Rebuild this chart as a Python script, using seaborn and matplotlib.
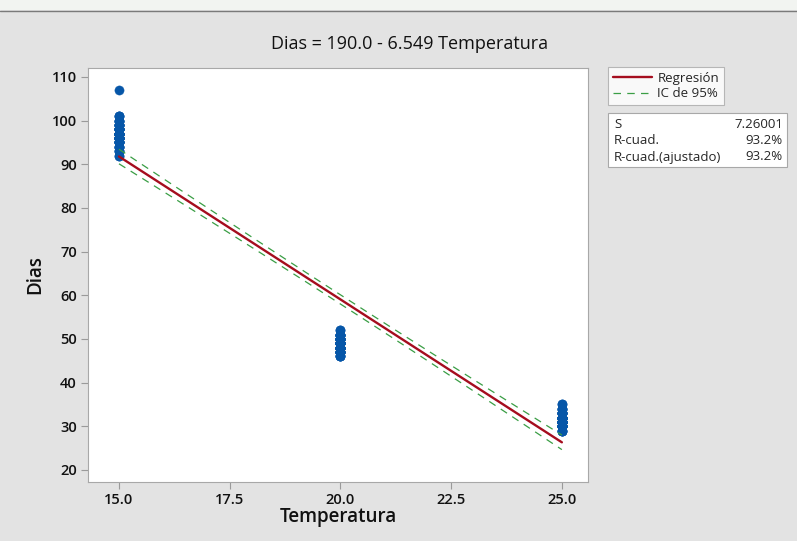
import numpy as np
import pandas as pd
import seaborn as sns
import matplotlib.pyplot as plt
from matplotlib.patches import Rectangle
from matplotlib.lines import Line2D

# observed values (Dias) per temperature, with how many times each was seen
temps = [15, 20, 25]
dias_15 = [92, 93, 94, 95, 96, 97, 98, 99, 100, 101, 107]
cnt_15 = [2, 3, 4, 7, 12, 14, 10, 6, 4, 3, 1]
dias_20 = [46, 47, 48, 49, 50, 51, 52]
cnt_20 = [4, 9, 16, 17, 11, 7, 2]
dias_25 = [29, 30, 31, 32, 33, 34, 35]
cnt_25 = [4, 12, 20, 16, 8, 4, 2]

title = "Dias = 190.0 - 6.549 Temperatura"
stats_labels = ["S", "R-cuad.", "R-cuad.(ajustado)"]
stats_values = ["7.26001", "93.2%", "93.2%"]

x = np.concatenate([np.repeat(t, sum(c)) for t, c in zip(temps, [cnt_15, cnt_20, cnt_25])])
y = np.concatenate([np.repeat(v, c) for v, c in zip([dias_15, dias_20, dias_25], [cnt_15, cnt_20, cnt_25])])
df = pd.DataFrame({"Temperatura": x, "Dias": y})

# least squares fit + 95% confidence band for the mean
b1, b0 = np.polyfit(x, y, 1)
n = len(x)
resid = y - (b0 + b1 * x)
s = np.sqrt((resid ** 2).sum() / (n - 2))
sxx = ((x - x.mean()) ** 2).sum()
tval = 1.972
xg = np.linspace(15, 25, 50)
yg = b0 + b1 * xg
half = tval * s * np.sqrt(1 / n + (xg - x.mean()) ** 2 / sxx)
fit = pd.DataFrame({"Temperatura": xg, "fit": yg, "lo": yg - half, "hi": yg + half})

sns.set_style("white")
plt.rcParams["font.family"] = ["Open Sans", "DejaVu Sans"]
bg = "#e3e3e3"
fig, ax = plt.subplots(figsize=(7.97, 5.41), dpi=100)
fig.patch.set_facecolor(bg)
fig.subplots_adjust(left=88 / 797, right=588 / 797, bottom=1 - 482 / 541, top=1 - 68 / 541)

sns.scatterplot(data=df, x="Temperatura", y="Dias", ax=ax, color="#0656a8",
                s=44, edgecolor="#0656a8", linewidth=0.3, zorder=3, legend=False)
sns.lineplot(data=fit, x="Temperatura", y="fit", ax=ax, color="#a50d1e", lw=1.7, zorder=4)
for col in ["lo", "hi"]:
    sns.lineplot(data=fit, x="Temperatura", y=col, ax=ax, color="#3a9e45",
                 lw=0.9, dashes=(6, 5), zorder=4)

ax.set_xlim(14.30, 25.59)
ax.set_ylim(17.25, 112.06)
ax.set_xticks([15, 17.5, 20, 22.5, 25])
ax.set_xticklabels(["15.0", "17.5", "20.0", "22.5", "25.0"], fontweight="semibold")
ax.set_yticks(range(20, 111, 10))
ax.set_yticklabels([str(v) for v in range(20, 111, 10)], fontweight="semibold")
ax.tick_params(axis="both", direction="out", length=5, width=0.8, color="#9a9a9a",
               labelsize=10.5, pad=3, bottom=True, left=True, labelcolor="#111111")
for sp in ax.spines.values():
    sp.set_color("#a8a8a8")
    sp.set_linewidth(0.8)
ax.set_xlabel("Temperatura", fontsize=13.5, fontweight="semibold", labelpad=0, color="#111111")
ax.set_ylabel("Dias", fontsize=13.5, fontweight="semibold", labelpad=5, color="#111111")
fig.text(410 / 797, 1 - 44 / 541, title, ha="center", va="center", fontsize=13,
         color="#111111")

# watermark strip at the top
fig.patches.append(Rectangle((0, 1 - 10 / 541), 1, 10 / 541, transform=fig.transFigure,
                             facecolor="#f2f4f1", edgecolor="none", zorder=0))
fig.add_artist(Line2D([0, 1], [1 - 10.5 / 541] * 2, color="#7a7a7a", lw=1))

# legend
handles = [Line2D([], [], color="#a50d1e", lw=1.7),
           Line2D([], [], color="#3a9e45", lw=0.9, dashes=(6, 5))]
leg = fig.legend(handles, ["Regresión", "IC de 95%"], loc="upper left",
                 bbox_to_anchor=(608 / 797, 1 - 67 / 541), fontsize=9.5, frameon=True,
                 fancybox=False, handlelength=3.0, handletextpad=0.4, borderpad=0.35,
                 labelspacing=0.2, borderaxespad=0)
leg.get_frame().set_edgecolor("#a8a8a8")
leg.get_frame().set_linewidth(0.8)

# statistics box
fig.patches.append(Rectangle((608 / 797, 1 - 167 / 541), 179 / 797, 54 / 541,
                             transform=fig.transFigure, facecolor="white",
                             edgecolor="#a8a8a8", lw=0.8))
for i, (lab, val) in enumerate(zip(stats_labels, stats_values)):
    yy = 1 - (125 + i * 16) / 541
    fig.text(614 / 797, yy, lab, fontsize=9.5, va="center", ha="left")
    fig.text(783 / 797, yy, val, fontsize=9.5, va="center", ha="right")

fig.savefig("out.png", dpi=100, facecolor=bg)
